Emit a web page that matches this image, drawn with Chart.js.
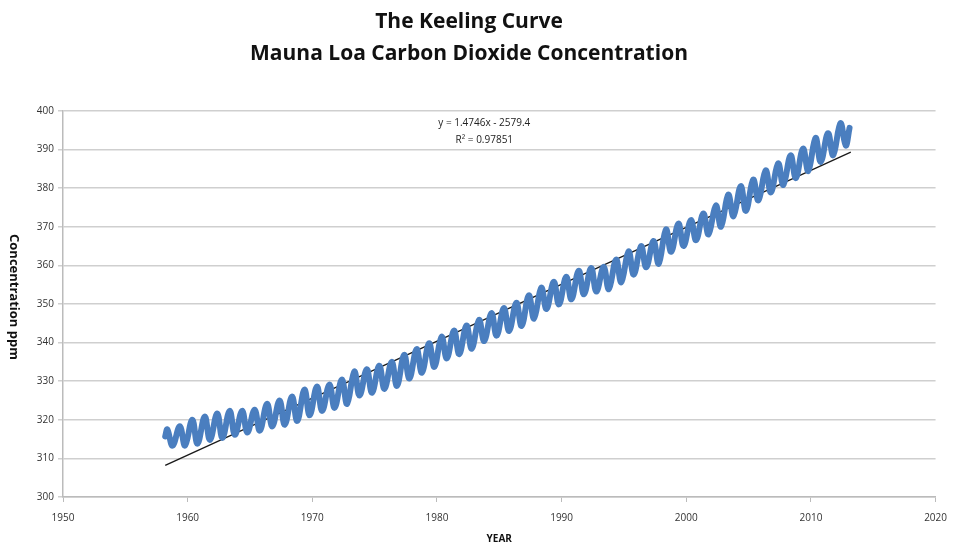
<!DOCTYPE html>
<html>
<head>
<meta charset="utf-8">
<script src="https://cdn.jsdelivr.net/npm/chart.js@4"></script>
<style>
  html, body { margin: 0; padding: 0; background: #fff; }
  #wrap { width: 957px; height: 545px; }
</style>
</head>
<body>
<div id="wrap"><canvas id="chart"></canvas></div>
<script>
// Mauna Loa CO2: seasonal high (May) and low (Oct) per year
const years = [1958, 1959, 1960, 1961, 1962, 1963, 1964, 1965, 1966, 1967,
  1968, 1969, 1970, 1971, 1972, 1973, 1974, 1975, 1976, 1977,
  1978, 1979, 1980, 1981, 1982, 1983, 1984, 1985, 1986, 1987,
  1988, 1989, 1990, 1991, 1992, 1993, 1994, 1995, 1996, 1997,
  1998, 1999, 2000, 2001, 2002, 2003, 2004, 2005, 2006, 2007,
  2008, 2009, 2010, 2011, 2012];
const mayHigh = [317.5, 318.3, 320.0, 320.8, 321.6, 322.3, 322.3, 322.6, 324.1, 325.0,
  326.0, 327.8, 328.6, 329.1, 330.4, 332.5, 333.1, 334.0, 335.0, 336.8,
  338.3, 339.8, 341.5, 343.1, 344.4, 345.9, 347.6, 348.9, 350.3, 352.2,
  354.2, 355.7, 357.0, 358.6, 359.3, 359.6, 361.5, 363.6, 365.0, 366.3,
  369.3, 370.8, 371.7, 373.4, 375.5, 378.3, 380.5, 382.2, 384.6, 386.4,
  388.5, 390.2, 393.0, 394.2, 396.8];
const octLow = [313.3, 313.3, 313.8, 314.8, 315.3, 316.1, 316.7, 317.2, 318.3, 318.7,
  319.7, 321.2, 322.3, 323.1, 324.1, 326.3, 327.0, 328.0, 328.8, 330.7,
  332.2, 333.7, 335.9, 337.0, 338.4, 340.4, 341.8, 343.0, 344.3, 346.2,
  348.7, 349.9, 351.2, 352.5, 353.2, 353.8, 355.6, 357.6, 359.5, 360.4,
  363.5, 365.0, 366.5, 368.0, 370.0, 372.7, 374.1, 376.8, 378.9, 380.8,
  382.6, 384.4, 386.8, 388.5, 391.0];
const firstPoint = [1958.2, 315.7];
const lastPoint = [2013.1, 395.6];

// linear fit line ends
const fitX = [1958.2, 2013.2];
const fitY = [308.2, 389.3];
const fitLabel = ['y = 1.4746x - 2579.4', 'R² = 0.97851'];

const titleLines = ['The Keeling Curve', 'Mauna Loa Carbon Dioxide Concentration'];
const yTitle = 'Concentration ppm';
const xTitle = 'YEAR';

let co2Points = [{ x: firstPoint[0], y: firstPoint[1] }];
for (let i = 0; i < years.length; i++) {
  co2Points.push({ x: years[i] + 0.37, y: mayHigh[i] });
  co2Points.push({ x: years[i] + 0.79, y: octLow[i] });
}
co2Points.push({ x: lastPoint[0], y: lastPoint[1] });

const fitPoints = fitX.map((x, i) => ({ x: x, y: fitY[i] }));

const FONT = "'Open Sans', 'DejaVu Sans', sans-serif";

// equation text and the y title (reads top to bottom)
const extraText = {
  id: 'extraText',
  afterDraw(chart) {
    const ctx = chart.ctx;
    const xs = chart.scales.x, ys = chart.scales.y;
    ctx.save();
    ctx.fillStyle = '#222';
    ctx.font = '10px ' + FONT;
    ctx.textAlign = 'center';
    ctx.textBaseline = 'middle';
    ctx.fillText(fitLabel[0], xs.getPixelForValue(1983.8), ys.getPixelForValue(396.8));
    ctx.fillText(fitLabel[1], xs.getPixelForValue(1983.8), ys.getPixelForValue(392.5));

    ctx.translate(14, 297);
    ctx.rotate(Math.PI / 2);
    ctx.font = 'bold 13px ' + FONT;
    ctx.fillStyle = '#111';
    ctx.fillText(yTitle, 0, 0);
    ctx.restore();
  }
};

new Chart(document.getElementById('chart'), {
  type: 'line',
  data: {
    datasets: [
      {
        data: co2Points,
        borderColor: '#4a7ebf',
        borderWidth: 6,
        pointRadius: 0,
        tension: 0.4,
        borderCapStyle: 'round',
        borderJoinStyle: 'round'
      },
      {
        data: fitPoints,
        borderColor: '#1a1a1a',
        borderWidth: 1.3,
        pointRadius: 0
      }
    ]
  },
  plugins: [extraText],
  options: {
    responsive: true,
    maintainAspectRatio: false,
    animation: false,
    layout: { padding: { left: 0, right: 19, top: 0, bottom: 0 } },
    plugins: {
      legend: { display: false },
      tooltip: { enabled: false },
      title: {
        display: true,
        text: titleLines,
        color: '#111',
        font: { family: FONT, size: 21, weight: 'bold', lineHeight: 1.52 },
        padding: { top: 6, bottom: 41 }
      }
    },
    scales: {
      x: {
        type: 'linear',
        min: 1950,
        max: 2020,
        afterFit(scale) { scale.height = 48; },
        ticks: {
          stepSize: 10,
          color: '#333',
          font: { family: FONT, size: 10 },
          maxRotation: 0,
          padding: 10,
          callback: v => String(v)
        },
        grid: { drawOnChartArea: false, drawTicks: true, tickLength: 5, color: '#bbb' },
        border: { color: '#bbb', width: 1.5 },
        title: {
          display: true,
          text: xTitle,
          color: '#111',
          font: { family: FONT, size: 10, weight: 'bold' },
          padding: { top: 4, bottom: 0 }
        }
      },
      y: {
        min: 300,
        max: 400,
        afterFit(scale) { scale.width = 63; },
        ticks: {
          stepSize: 10,
          color: '#333',
          font: { family: FONT, size: 10 },
          padding: 4
        },
        grid: { color: '#cfcfcf', lineWidth: 1.5, tickLength: 5 },
        border: { color: '#bbb', width: 1.5 }
      }
    }
  }
});
</script>
</body>
</html>
